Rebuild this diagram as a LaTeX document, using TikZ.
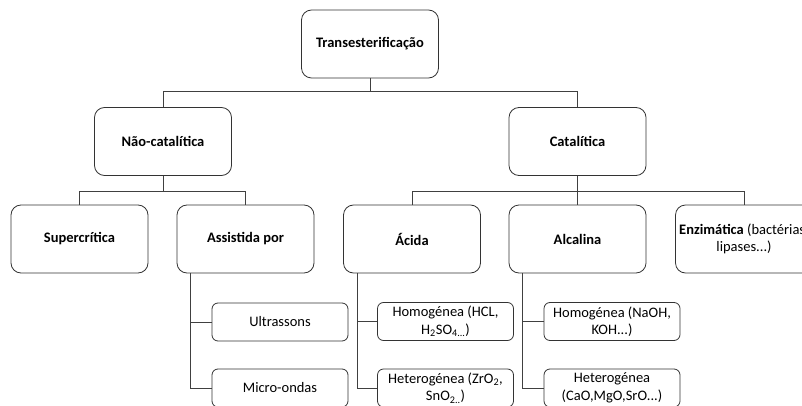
\documentclass[tikz,border=0pt]{standalone}
\usepackage{fontspec}
\setmainfont{Carlito}
\usetikzlibrary{calc}
\begin{document}
\begin{tikzpicture}[x=1pt,y=-1pt,
  line width=0.8pt,
  bigbox/.style={draw=black!80, rounded corners=10pt, minimum width=137pt, minimum height=68pt, align=center, font=\fontsize{14.5}{17.5}\selectfont\bfseries, inner sep=1pt},
  smallbox/.style={draw=black!80, rounded corners=6pt, minimum width=136pt, minimum height=38pt, align=center, font=\fontsize{14.5}{17.5}\selectfont, inner sep=1pt},
  conn/.style={draw=black!75, line width=0.8pt}]
\useasboundingbox (0,0) rectangle (802,406);
\node[bigbox] (top) at (370,44) {Transesterificação};
\node[bigbox] (nc) at (163,141.5) {Não-catalítica};
\node[bigbox] (cat) at (577.5,141.5) {Catalítica};
\node[bigbox] (sup) at (79.5,239) {Supercrítica};
\node[bigbox] (ass) at (245.5,239) {Assistida por};
\node[bigbox] (aci) at (412,239) {Ácida};
\node[bigbox] (alc) at (577.5,239) {Alcalina};
\node[bigbox, font=\fontsize{14.5}{17.5}\selectfont] (enz) at (744,239) {\textbf{Enzimática} (bactérias,\\lipases...)};
\node[smallbox] (ult) at (280,322) {Ultrassons};
\node[smallbox] (mic) at (280,388) {Micro-ondas};
\node[smallbox] (hom1) at (445.5,321.5) {Homogénea (HCL,\\H\textsubscript{2}SO\textsubscript{4...})};
\node[smallbox] (het1) at (445.5,388) {Heterogénea (ZrO\textsubscript{2},\\SnO\textsubscript{2..})};
\node[smallbox] (hom2) at (612,321.5) {Homogénea (NaOH,\\KOH...)};
\node[smallbox] (het2) at (612,388) {Heterogénea\\(CaO,MgO,SrO...)};
\draw[conn] (top.south) -- +(0,13.5) -| (nc.north);
\draw[conn] (top.south) -- +(0,13.5) -| (cat.north);
\draw[conn] (nc.south) -- +(0,15) -| (sup.north);
\draw[conn] (nc.south) -- +(0,15) -| (ass.north);
\draw[conn] (cat.south) -- +(0,15) -| (aci.north);
\draw[conn] (cat.south) -- +(0,15) -| (alc.north);
\draw[conn] (cat.south) -- +(0,15) -| (enz.north);
\draw[conn] ($(ass.south west)+(14,0)$) |- (ult.west);
\draw[conn] ($(ass.south west)+(14,0)$) |- (mic.west);
\draw[conn] ($(aci.south west)+(14.5,0)$) |- (hom1.west);
\draw[conn] ($(aci.south west)+(14.5,0)$) |- (het1.west);
\draw[conn] ($(alc.south west)+(14,0)$) |- (hom2.west);
\draw[conn] ($(alc.south west)+(14,0)$) |- (het2.west);
\end{tikzpicture}
\end{document}
